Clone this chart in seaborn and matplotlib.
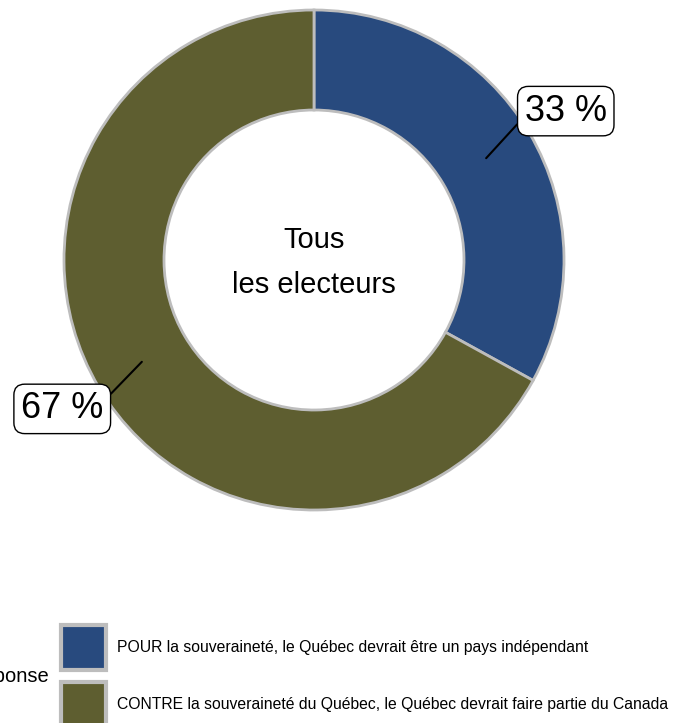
import numpy as np
import matplotlib.pyplot as plt
import seaborn as sns
from matplotlib.patches import Patch

# data
categories = ["POUR la souveraineté, le Québec devrait être un pays indépendant",
              "CONTRE la souveraineté du Québec, le Québec devrait faire partie du Canada"]
values = [33, 67]
colors = ["#284a7e", "#5e5e30"]
center_label = "Tous\nles electeurs"
legend_title = "Réponse"

sns.set_theme(style="white")
plt.rcParams['font.family'] = ['Liberation Sans', 'DejaVu Sans']
plt.rcParams['text.color'] = 'black'

W, H = 676, 723
fig = plt.figure(figsize=(W / 100, H / 100), dpi=100)

# pie axes: centre at (314, 260) px from top, radius 250 px
R = 250
cx, cy = 314, H - 260
lim = 1.25
ax = fig.add_axes([(cx - lim * R) / W, (cy - lim * R) / H, 2 * lim * R / W, 2 * lim * R / H])
ax.set_xlim(-lim, lim)
ax.set_ylim(-lim, lim)
ax.set_aspect("equal")
ax.axis("off")

wedges, _ = ax.pie(values, colors=colors, startangle=90, counterclock=False, radius=1,
                   wedgeprops=dict(width=0.4, edgecolor="#bdbdbd", linewidth=2))

ax.text(0, -0.01, center_label, ha="center", va="center", fontsize=21, linespacing=1.8,
        color="black")

# labels with leader lines
for w, v in zip(wedges, values):
    ang = np.deg2rad((w.theta1 + w.theta2) / 2)
    x0, y0 = 0.8 * np.cos(ang), 0.8 * np.sin(ang)
    xt, yt = 1.17 * np.cos(ang), 1.17 * np.sin(ang)
    relpos = (0, 0.36) if xt > 0 else (1, 0.71)
    ax.annotate(f"{v} %", xy=(x0, y0), xytext=(xt, yt), ha="center", va="center",
                fontsize=26, color="black", annotation_clip=False,
                bbox=dict(boxstyle="round,pad=0.2,rounding_size=0.3", fc="white", ec="black", lw=1),
                arrowprops=dict(arrowstyle="-", color="black", lw=1.5, relpos=relpos,
                                shrinkA=0, shrinkB=0))

# legend
handles = [Patch(facecolor=c, edgecolor="#bdbdbd", linewidth=3) for c in colors]
fs = 11.3
fig.legend(handles, categories, loc="upper left", bbox_to_anchor=(61 / W, 1 - 625 / H),
           frameon=False, fontsize=fs, handlelength=2.87, handleheight=4.03,
           labelspacing=0.76, handletextpad=0.7, borderpad=0, borderaxespad=0,
           labelcolor="black")
fig.text(49 / W, 1 - 677 / H, legend_title, ha="right", va="center", fontsize=14.5,
         color="black")

fig.savefig("out.png", dpi=100)
